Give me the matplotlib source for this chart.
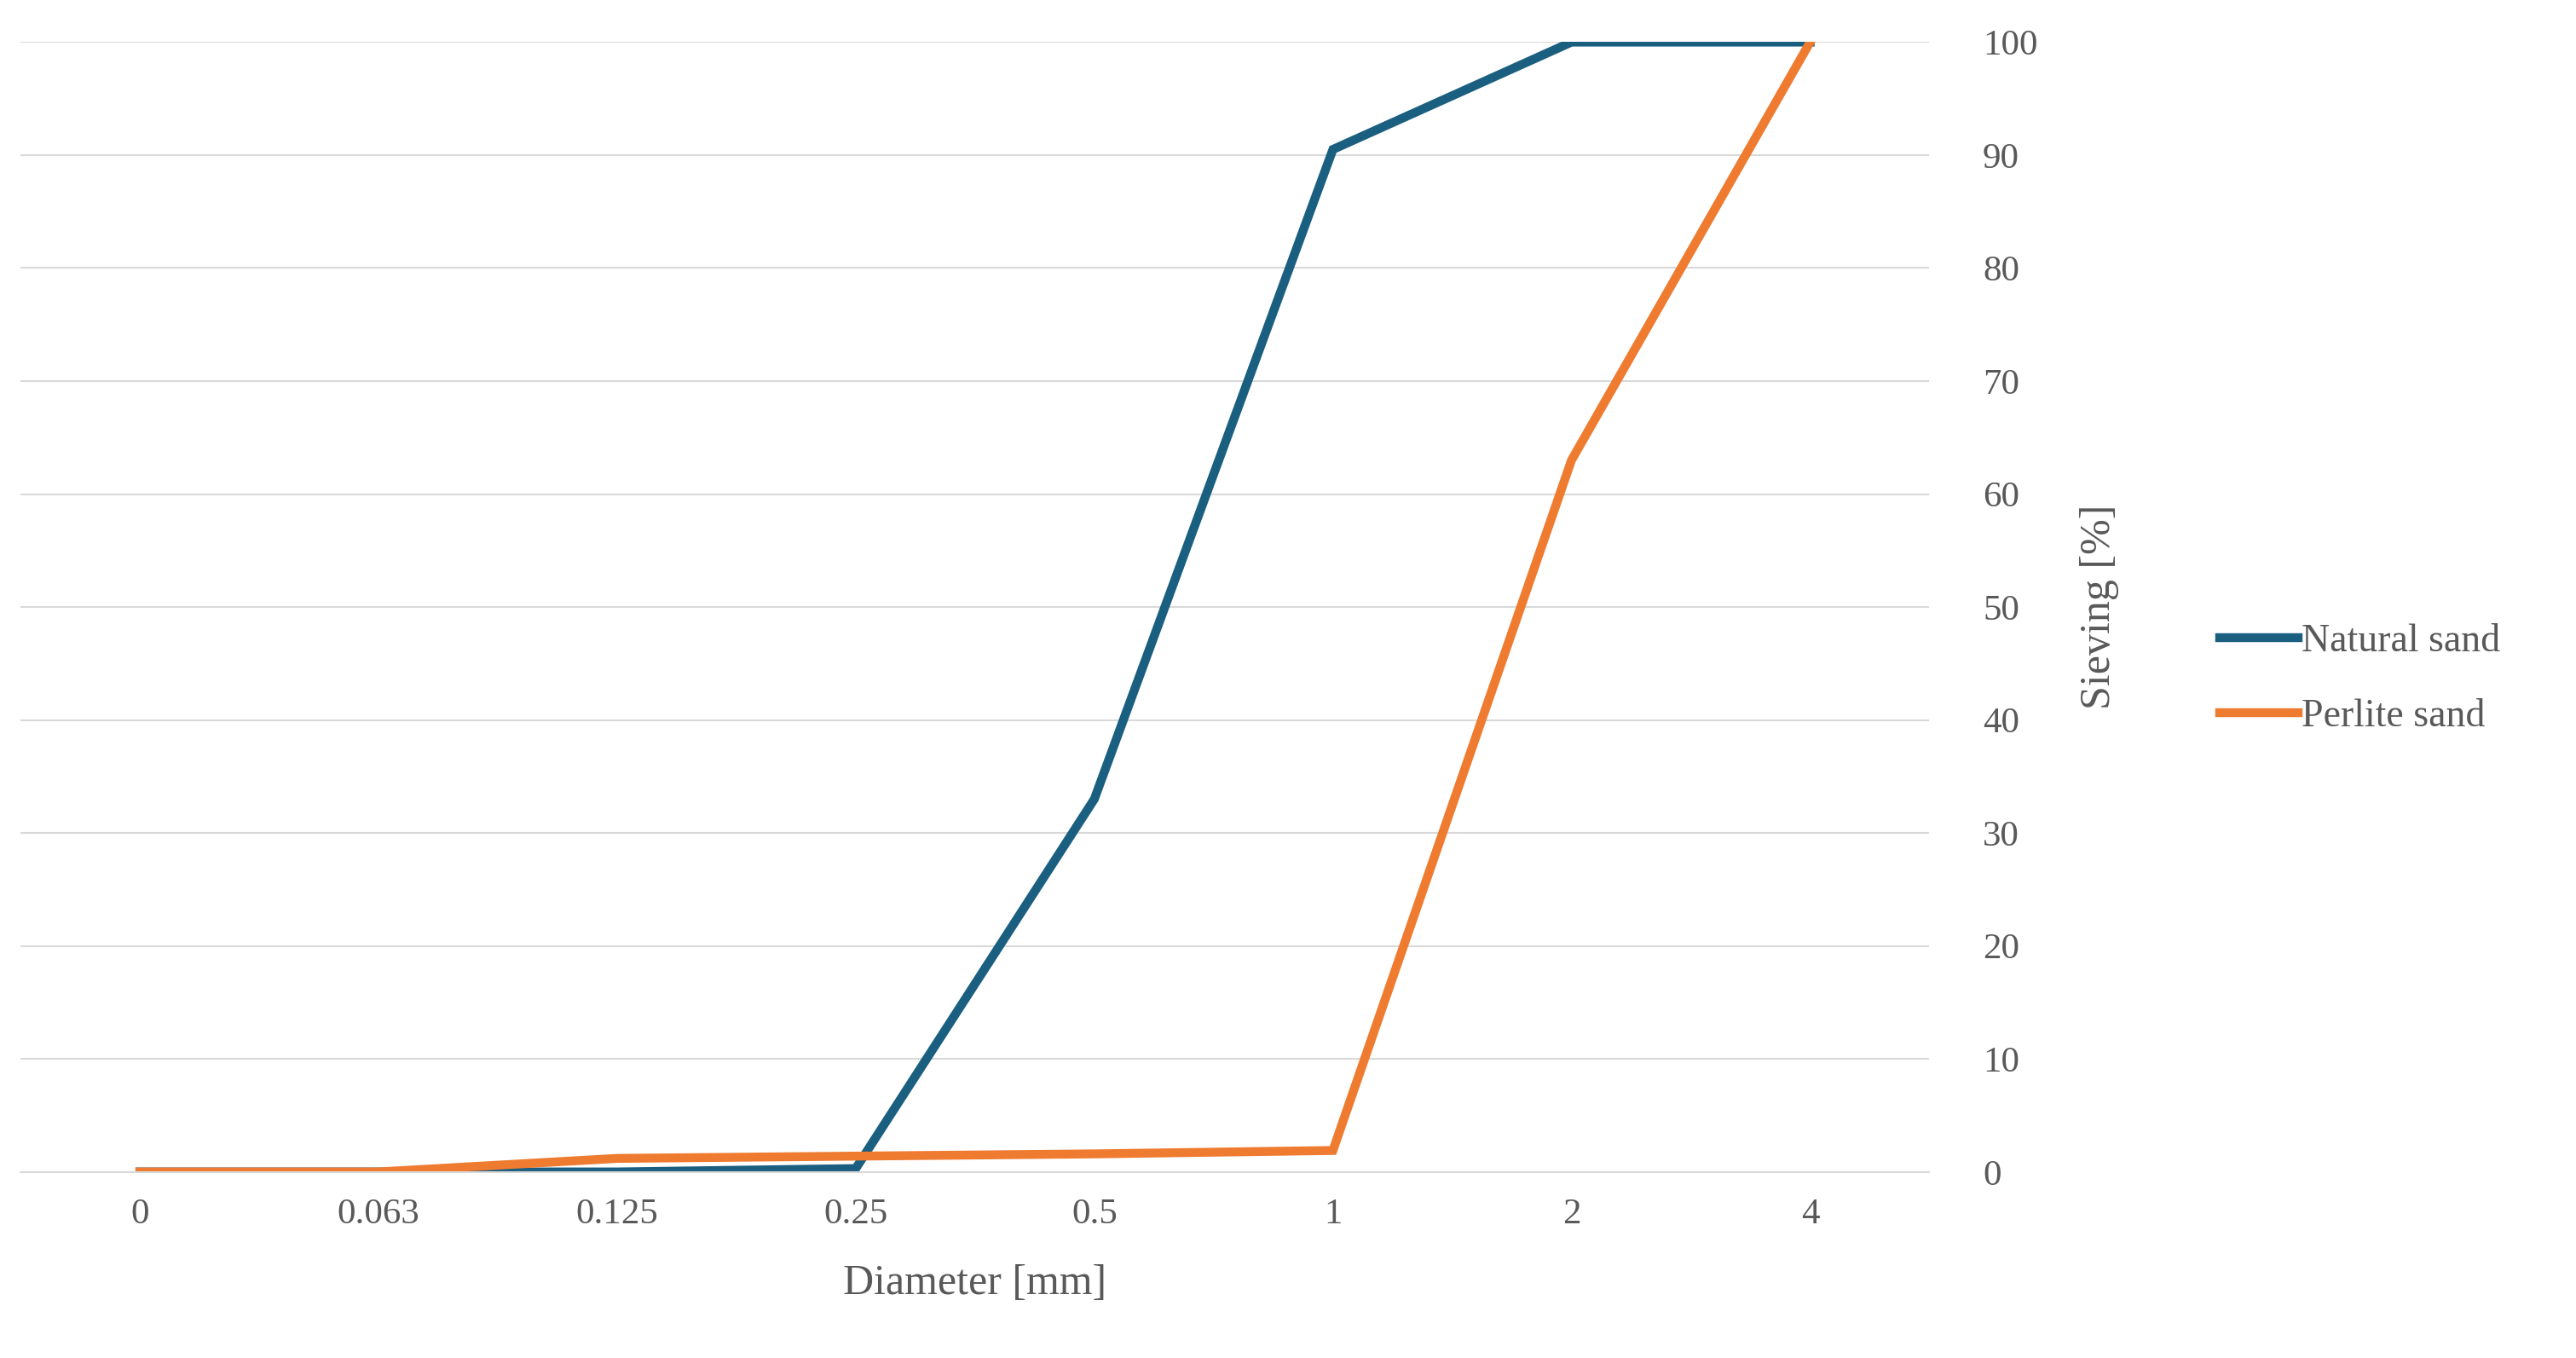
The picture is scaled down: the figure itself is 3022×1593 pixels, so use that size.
import matplotlib.pyplot as plt

categories = ["0", "0.063", "0.125", "0.25", "0.5", "1", "2", "4"]
natural = [0, 0, 0, 0.3, 33, 90.5, 100, 100]
perlite = [0, 0, 1.2, 1.4, 1.6, 1.9, 63, 100]

plt.rcParams['font.family'] = ['Liberation Serif', 'DejaVu Serif']
fig = plt.figure(figsize=(30.22, 15.93), dpi=100)
ax = fig.add_axes([0.008, 0.137, 0.741, 0.832])
x = range(len(categories))
ax.plot(x, natural, color='#1B5F80', lw=7.5, label='Natural sand', solid_joinstyle='miter')
ax.plot(x, perlite, color='#EE7B30', lw=7.5, label='Perlite sand', solid_joinstyle='miter')
ax.set_xlim(-0.5, 7.5)
ax.set_ylim(0, 100)
ax.set_yticks(range(0, 101, 10))
ax.set_xticks(list(x))
ax.set_xticklabels(categories)
ax.yaxis.tick_right()
ax.yaxis.set_label_position('right')
ax.grid(axis='y', color='#D9D9D9', lw=1.5)
ax.set_axisbelow(True)
for s in ['top', 'left', 'right']:
    ax.spines[s].set_visible(False)
ax.spines['bottom'].set_color('#D9D9D9')
ax.spines['bottom'].set_linewidth(1.5)
ax.tick_params(length=0, labelsize=31, colors='#595959', pad=22)
ax.tick_params(axis='y', pad=45)
ax.set_xlabel('Diameter [mm]', fontsize=36, color='#595959', labelpad=28)
ax.set_ylabel('Sieving [%]', fontsize=36, color='#595959', labelpad=35)
fig.legend(loc='center left', bbox_to_anchor=(0.848, 0.5), frameon=False,
           fontsize=33, labelcolor='#595959', handlelength=2.0, labelspacing=1.0,
           handletextpad=0.1)
fig.savefig('out.png', dpi=100)
